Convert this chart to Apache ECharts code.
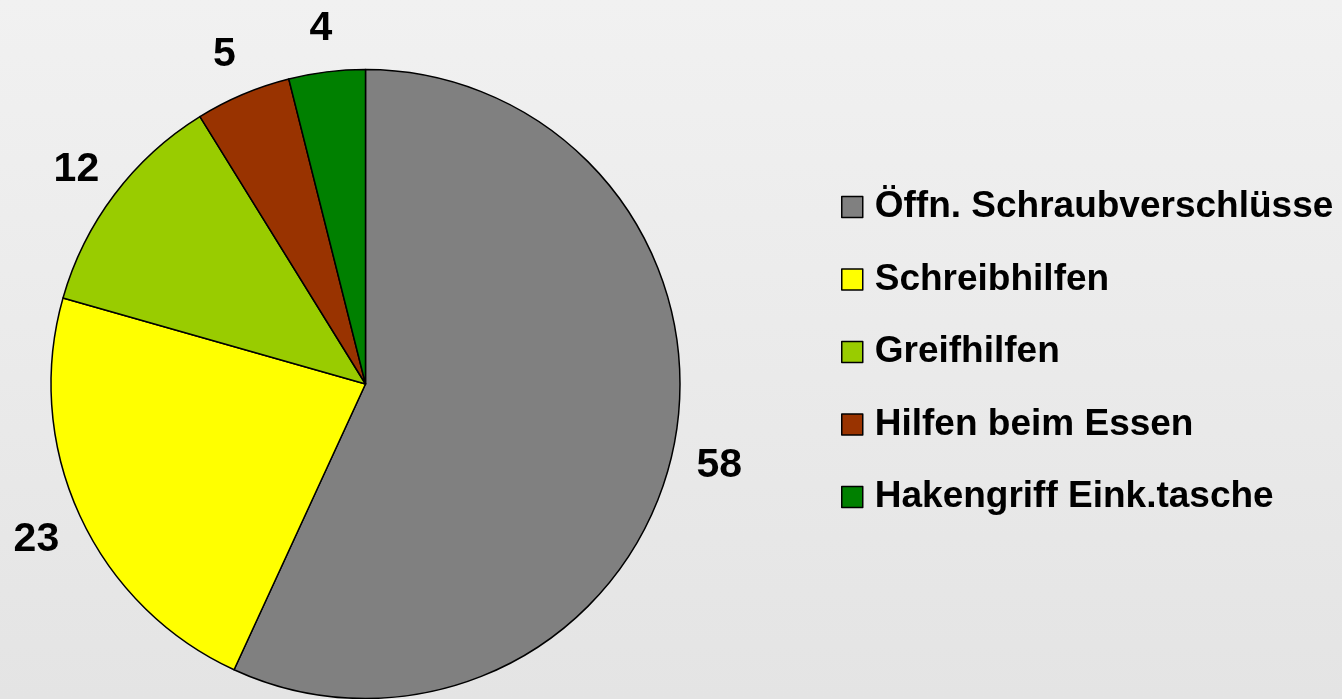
<!DOCTYPE html>
<html>
<head>
	<meta charset="utf-8">
	<title>Hilfsmittel</title>
	<script type="text/javascript" src="https://cdn.jsdelivr.net/npm/echarts@6/dist/echarts.min.js"></script>
	<style>
		html, body { margin: 0; padding: 0; }
	</style>
</head>
<body>
	<div id="main" style="width: 1342px;height:699px;"></div>
	<script type="text/javascript">
    var categories = ['Öffn. Schraubverschlüsse', 'Schreibhilfen', 'Greifhilfen', 'Hilfen beim Essen', 'Hakengriff Eink.tasche'];
    var values = [58, 23, 12, 5, 4];
    var colors = ['#808080', '#ffff00', '#99cc00', '#993300', '#008000'];

    var pieData = [];
    for (var i = 0; i < categories.length; i++) {
        pieData.push({name: categories[i], value: values[i], itemStyle: {color: colors[i]}});
    }

    var center = [365.5, 384];
    var font = '"Liberation Sans", Arial, sans-serif';

    option = {
        backgroundColor: {
            type: 'linear', x: 0, y: 0, x2: 0, y2: 1,
            colorStops: [{offset: 0, color: '#f1f1f1'}, {offset: 1, color: '#e4e4e4'}]
        },
        animation: false,
        legend: {
            orient: 'vertical',
            left: 836,
            top: 182,
            icon: 'rect',
            itemWidth: 21,
            itemHeight: 21,
            itemGap: 32.5,
            data: categories,
            itemStyle: {borderColor: '#000', borderWidth: 1.5},
            textStyle: {
                fontFamily: font,
                fontWeight: 'bold',
                fontSize: 37,
                lineHeight: 40,
                color: '#000',
                padding: [0, 0, 0, 7]
            }
        },
        series: [
            {
                name: 'werte',
                type: 'pie',
                center: center,
                radius: 314.5,
                startAngle: 90,
                clockwise: true,
                data: pieData,
                label: {show: false},
                labelLine: {show: false},
                itemStyle: {borderColor: '#000', borderWidth: 1.5},
                emphasis: {disabled: true}
            },
            {
                // unsichtbarer Ring nur fuer die Beschriftung
                name: 'labels',
                type: 'pie',
                center: center,
                radius: [314.5, 404],
                startAngle: 90,
                clockwise: true,
                silent: true,
                data: pieData.map(function (d) {
                    return {name: d.name, value: d.value, itemStyle: {color: 'rgba(0,0,0,0)'}};
                }),
                itemStyle: {borderWidth: 0},
                label: {
                    show: true,
                    position: 'inside',
                    formatter: '{c}',
                    offset: [0, 4],
                    fontFamily: font,
                    fontWeight: 'bold',
                    fontSize: 41,
                    color: '#000'
                },
                labelLine: {show: false},
                emphasis: {disabled: true}
            }
        ]
    };

    var myChart = echarts.init(document.getElementById('main'));
    myChart.setOption(option);
	</script>
</body>
</html>
